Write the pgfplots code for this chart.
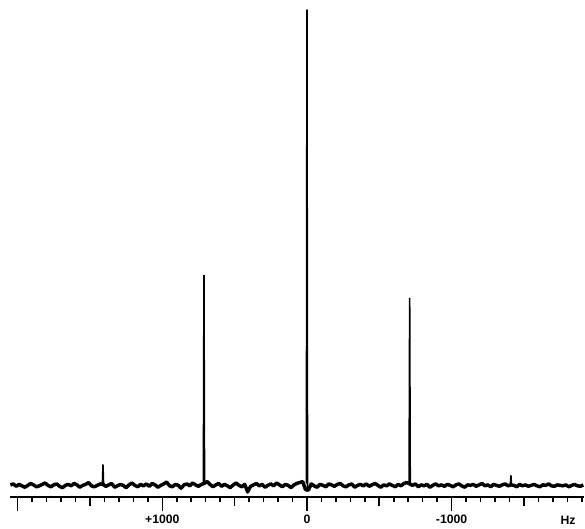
\documentclass[border=0pt]{standalone}
\usepackage{pgfplots}
\pgfplotsset{compat=1.18}
\usepackage{pgfplotstable}
\usepackage{fontspec}
\newfontfamily\labfont{Liberation Sans}

% baseline noise of the spectrum, shift (Hz) vs intensity
\pgfplotstableread{
x y
2050 0.2
2030 0.4
2010 -0.1
1990 0.3
1970 0.0
1950 -0.3
1930 0.1
1910 0.5
1890 0.2
1870 -0.2
1850 0.0
1830 0.3
1810 0.6
1790 0.1
1770 -0.2
1750 0.2
1730 0.4
1710 -0.1
1690 -0.4
1670 0.1
1650 0.3
1630 0.0
1610 0.5
1590 0.2
1570 -0.3
1550 0.1
1530 0.3
1510 0.7
1490 0.0
1470 -0.2
1450 0.1
1430 0.4
1410 0.3
1390 -0.1
1370 0.2
1350 0.5
1330 -0.3
1310 0.0
1290 0.3
1270 0.1
1250 -0.4
1230 0.2
1210 0.6
1190 0.1
1170 -0.2
1150 0.3
1130 0.0
1110 0.4
1090 -0.1
1070 0.5
1050 0.2
1030 -0.3
1010 0.1
990 0.4
970 0.8
950 0.0
930 -0.2
910 0.3
890 0.1
870 -0.5
850 0.2
830 0.4
810 0.0
790 0.6
770 0.2
750 -0.1
730 0.3
710 0.5
690 0.9
670 0.3
650 -0.2
630 0.2
610 0.5
590 -0.1
570 0.3
550 0.0
530 -0.4
510 0.2
490 0.6
470 0.1
450 -0.2
430 0.3
410 -1.3
390 -0.1
370 0.2
350 0.5
330 0.0
310 0.3
290 -0.3
270 0.1
250 0.4
230 0.0
210 0.6
190 0.2
170 -0.2
150 0.3
130 0.1
110 -0.4
90 0.2
70 0.5
50 0.7
30 0.9
10 -0.8
-10 -0.9
-30 0.4
-50 0.0
-70 -0.3
-90 0.3
-110 0.1
-130 -0.2
-150 0.4
-170 0.2
-190 -0.1
-210 0.3
-230 0.5
-250 0.0
-270 -0.2
-290 0.2
-310 0.4
-330 -0.3
-350 0.1
-370 0.3
-390 0.0
-410 0.4
-430 -0.1
-450 0.2
-470 0.5
-490 0.1
-510 -0.3
-530 0.2
-550 0.0
-570 0.4
-590 0.1
-610 -0.2
-630 0.3
-650 0.0
-670 0.5
-690 0.7
-710 0.4
-730 0.1
-750 0.4
-770 -0.2
-790 0.2
-810 0.0
-830 0.3
-850 -0.3
-870 0.1
-890 0.4
-910 0.0
-930 0.2
-950 -0.1
-970 0.3
-990 0.1
-1010 -0.2
-1030 0.2
-1050 0.4
-1070 0.0
-1090 -0.3
-1110 0.2
-1130 0.1
-1150 0.3
-1170 -0.1
-1190 0.2
-1210 0.5
-1230 0.0
-1250 0.2
-1270 -0.2
-1290 0.3
-1310 0.1
-1330 -0.1
-1350 0.2
-1370 0.4
-1390 0.0
-1410 0.2
-1430 0.1
-1450 -0.2
-1470 0.3
-1490 0.0
-1510 0.2
-1530 -0.1
-1550 0.1
-1570 0.3
-1590 0.0
-1610 -0.2
-1630 0.2
-1650 0.1
-1670 0.4
-1690 0.0
-1710 -0.1
-1730 0.2
-1750 0.1
-1770 0.0
-1790 0.2
-1810 -0.2
-1830 0.1
-1850 0.3
-1870 0.0
-1890 -0.1
-1910 0.2
}\noise

% the five lines, tallest = 100 (nan rows break the path between lines)
\pgfplotstableread{
x y
1414 0.3
1410 4.4
1406 0.3
1000 nan
716 0.5
712 44.2
708 0.9
400 nan
4 0.5
0 100
-4 -0.8
-400 nan
-706 0.7
-710 39.4
-714 0.4
-1000 nan
-1406 0.2
-1410 2.1
-1414 0.2
}\lines

\begin{document}
\begin{tikzpicture}
\begin{axis}[
  scale only axis,
  width=431.25pt, height=373.5pt,
  x dir=reverse,
  xmin=-1912, xmax=2053,
  ymin=-2.3, ymax=102.1,
  axis x line*=bottom,
  axis y line=none,
  x axis line style={line width=1.3pt},
  tick align=outside,
  xtick pos=bottom,
  xtick={2000,1000,0,-1000},
  xticklabels={,+1000,0,-1000},
  minor xtick={-1900,-1800,...,2000},
  extra x ticks={1500,500,-500,-1500},
  extra x tick labels={},
  extra x tick style={major tick length=7pt},
  major tick length=10.5pt,
  minor tick length=4pt,
  every tick/.style={black, line width=1.2pt},
  ticklabel style={font=\labfont\bfseries\fontsize{9.2}{11}\selectfont},
  clip=false,
]
\addplot[black, line width=2.6pt, line join=round, mark=none] table[x=x,y=y] {\noise};
\addplot[black, line width=1.2pt, line join=round, mark=none, unbounded coords=jump]
  table[x=x,y=y] {\lines};
\node[font=\labfont\bfseries\fontsize{9.2}{11}\selectfont, anchor=north]
  at ([yshift=-11pt]rel axis cs:0.973,0) {Hz};
\end{axis}
\path ([xshift=-7.5pt,yshift=-22.5pt]current axis.south west) rectangle (current axis.north east);
\end{tikzpicture}
\end{document}
